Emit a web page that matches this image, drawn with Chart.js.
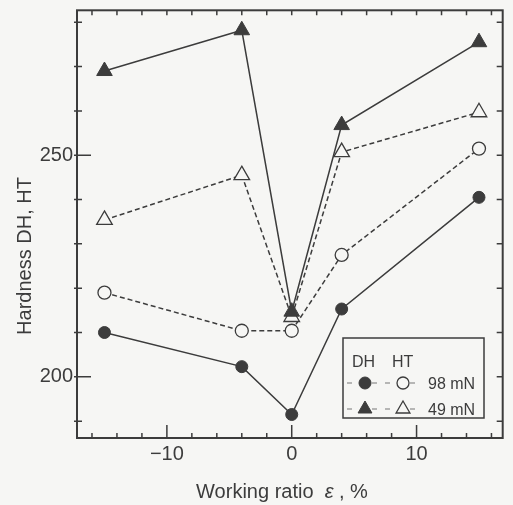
<!DOCTYPE html>
<html>
<head>
<meta charset="utf-8">
<script src="https://cdn.jsdelivr.net/npm/chart.js@4/dist/chart.umd.min.js"></script>
<style>
  body { margin: 0; background: #f6f6f4; }
  canvas { display: block; }
</style>
</head>
<body>
<canvas id="hardnessChart" width="513" height="505"></canvas>
<script>
const colorInk = '#3c3c3c';
const colorPaper = '#f6f6f4';
const fontFamily = '"Liberation Sans", Arial, Helvetica, sans-serif';

// working ratio, %
const workingRatio = [-15, -4, 0, 4, 15];

// hardness values
const dh98 = [210.0, 202.3, 191.5, 215.3, 240.5];
const ht98 = [219.0, 210.4, 210.4, 227.5, 251.5];
const dh49 = [269.0, 278.2, 214.7, 256.8, 275.5];
const ht49 = [235.4, 245.5, 213.5, 250.7, 259.7];

// ticks
const xMajorTicks = [-10, 0, 10];
const xMinorTicks = [-16, -14, -12, -10, -8, -6, -4, -2, 0, 2, 4, 6, 8, 10, 12, 14, 16];
const yMajorTicks = [200, 250];
const yMinorTicks = [190, 200, 210, 220, 230, 240, 250, 260, 270, 280];

const toPoints = (values) => workingRatio.map((x, i) => ({x: x, y: values[i]}));

const frameAndTicks = {
    id: 'frameAndTicks',
    beforeDraw: (chart) => {
        const ctx = chart.ctx;
        ctx.save();
        ctx.fillStyle = colorPaper;
        ctx.fillRect(0, 0, chart.width, chart.height);
        ctx.restore();
    },
    afterDraw: (chart) => {
        const ctx = chart.ctx;
        const {left, right, top, bottom} = chart.chartArea;
        const xs = chart.scales.x;
        const ys = chart.scales.y;
        ctx.save();
        ctx.strokeStyle = colorInk;
        ctx.lineWidth = 2;
        ctx.strokeRect(left, top, right - left, bottom - top);

        ctx.lineWidth = 1.5;
        ctx.beginPath();
        for (let v of xMinorTicks) {
            const px = xs.getPixelForValue(v);
            const len = xMajorTicks.includes(v) ? 13 : 5;
            ctx.moveTo(px, bottom);
            ctx.lineTo(px, bottom - len);
            ctx.moveTo(px, top);
            ctx.lineTo(px, top + 5);
        }
        for (let v of yMinorTicks) {
            const py = ys.getPixelForValue(v);
            const len = yMajorTicks.includes(v) ? 14 : 5;
            ctx.moveTo(left - 3, py);
            ctx.lineTo(left + len, py);
            ctx.moveTo(right, py);
            ctx.lineTo(right - 6, py);
        }
        ctx.stroke();

        // axis titles
        ctx.fillStyle = colorInk;
        ctx.font = `20px ${fontFamily}`;
        ctx.textBaseline = 'middle';
        ctx.textAlign = 'center';
        ctx.save();
        ctx.translate(25, 256);
        ctx.rotate(-Math.PI / 2);
        ctx.fillText('Hardness DH, HT', 0, 0);
        ctx.restore();

        const partA = 'Working ratio  ';
        const partB = 'ε';
        const partC = ' , %';
        ctx.textAlign = 'left';
        ctx.textBaseline = 'alphabetic';
        const wA = ctx.measureText(partA).width;
        const wC = ctx.measureText(partC).width;
        ctx.font = `italic 20px ${fontFamily}`;
        const wB = ctx.measureText(partB).width;
        let tx = 282 - (wA + wB + wC) / 2;
        const ty = 498;
        ctx.font = `20px ${fontFamily}`;
        ctx.fillText(partA, tx, ty);
        ctx.font = `italic 20px ${fontFamily}`;
        ctx.fillText(partB, tx + wA, ty);
        ctx.font = `20px ${fontFamily}`;
        ctx.fillText(partC, tx + wA + wB, ty);

        // legend box
        ctx.lineWidth = 1.5;
        ctx.strokeRect(343, 338, 141, 80);
        ctx.font = `16px ${fontFamily}`;
        ctx.fillText('DH', 352, 367);
        ctx.fillText('HT', 392, 367);

        const rows = [
            {y: 383, label: '98 mN', style: 'circle', r: 6},
            {y: 409, label: '49 mN', style: 'triangle', r: 8}
        ];
        for (let row of rows) {
            ctx.strokeStyle = '#777';
            ctx.lineWidth = 1.2;
            ctx.beginPath();
            for (let cx of [365, 403]) {
                ctx.moveTo(cx - 18, row.y); ctx.lineTo(cx - 13, row.y);
                ctx.moveTo(cx + 7, row.y); ctx.lineTo(cx + 12, row.y);
            }
            ctx.stroke();
            ctx.strokeStyle = colorInk;
            ctx.fillStyle = colorInk;
            ctx.lineWidth = 1;
            Chart.helpers.drawPoint(ctx, {pointStyle: row.style, radius: row.r, borderWidth: 1, rotation: 0}, 365, row.y);
            ctx.fillStyle = colorPaper;
            ctx.lineWidth = 1.3;
            Chart.helpers.drawPoint(ctx, {pointStyle: row.style, radius: row.r, borderWidth: 1.3, rotation: 0}, 403, row.y);
            ctx.fillStyle = colorInk;
            ctx.fillText(row.label, 428, row.y + 6);
        }
        ctx.restore();
    }
};

const hardnessChart = new Chart(document.getElementById('hardnessChart').getContext('2d'), {
    type: 'scatter',
    data: {
        datasets: [
            {
                label: 'DH 49 mN',
                data: toPoints(dh49),
                showLine: true,
                borderColor: colorInk,
                borderWidth: 1.5,
                pointStyle: 'triangle',
                pointRadius: 9,
                pointBackgroundColor: colorInk,
                pointBorderColor: colorInk,
                pointBorderWidth: 1,
                order: 1
            },
            {
                label: 'HT 49 mN',
                data: toPoints(ht49),
                showLine: true,
                borderColor: colorInk,
                borderWidth: 1.5,
                borderDash: [5, 3],
                pointStyle: 'triangle',
                pointRadius: 9,
                pointBackgroundColor: colorPaper,
                pointBorderColor: colorInk,
                pointBorderWidth: 1.3,
                order: 2
            },
            {
                label: 'DH 98 mN',
                data: toPoints(dh98),
                showLine: true,
                borderColor: colorInk,
                borderWidth: 1.5,
                pointStyle: 'circle',
                pointRadius: 6,
                pointBackgroundColor: colorInk,
                pointBorderColor: colorInk,
                pointBorderWidth: 1,
                order: 3
            },
            {
                label: 'HT 98 mN',
                data: toPoints(ht98),
                showLine: true,
                borderColor: colorInk,
                borderWidth: 1.5,
                borderDash: [5, 3],
                pointStyle: 'circle',
                pointRadius: 6.5,
                pointBackgroundColor: colorPaper,
                pointBorderColor: colorInk,
                pointBorderWidth: 1.3,
                order: 4
            }
        ]
    },
    options: {
        responsive: false,
        animation: false,
        layout: {
            padding: {top: 10, right: 10, left: 0, bottom: 0}
        },
        scales: {
            x: {
                type: 'linear',
                min: -17.2,
                max: 16.9,
                grid: {display: false, drawTicks: false},
                border: {display: false},
                afterBuildTicks: (scale) => {
                    scale.ticks = xMajorTicks.map(v => ({value: v}));
                },
                afterFit: (scale) => {
                    scale.height = 67;
                    scale.paddingLeft = 0;
                    scale.paddingRight = 0;
                },
                ticks: {
                    color: colorInk,
                    padding: 4,
                    maxRotation: 0,
                    font: {size: 20, family: fontFamily},
                    callback: (v) => v < 0 ? '\u2212' + Math.abs(v) : String(v)
                }
            },
            y: {
                min: 186.2,
                max: 282.7,
                grid: {display: false, drawTicks: false},
                border: {display: false},
                afterBuildTicks: (scale) => {
                    scale.ticks = yMajorTicks.map(v => ({value: v}));
                },
                afterFit: (scale) => {
                    scale.width = 77;
                    scale.paddingTop = 0;
                    scale.paddingBottom = 0;
                },
                ticks: {
                    color: colorInk,
                    padding: 4,
                    font: {size: 20, family: fontFamily}
                }
            }
        },
        plugins: {
            legend: {display: false},
            tooltip: {enabled: false}
        }
    },
    plugins: [frameAndTicks]
});
</script>
</body>
</html>
